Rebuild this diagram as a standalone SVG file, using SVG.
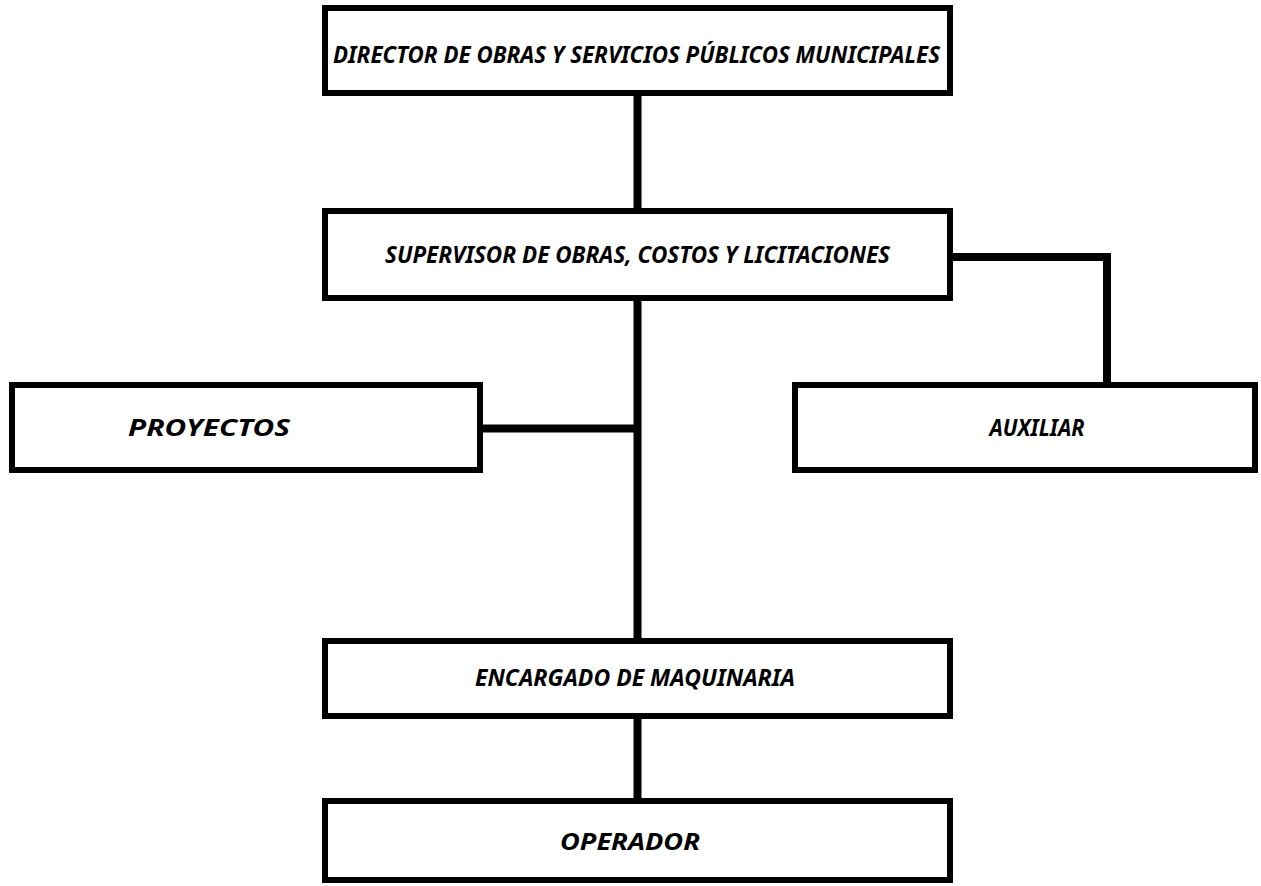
<svg xmlns="http://www.w3.org/2000/svg" width="1261" height="886" viewBox="0 0 1261 886">
<style>
.box{fill:#fff;stroke:#000;stroke-width:6}
.lbl{font-family:"Noto Sans","Liberation Sans",sans-serif;font-weight:bold;font-style:italic;font-size:23px;fill:#000;text-anchor:middle}
.conn{fill:none;stroke:#000;stroke-width:8;stroke-linecap:butt;stroke-linejoin:miter}
</style>
<rect width="1261" height="886" fill="#fff"/>
<g id="connectors">
<path class="conn" d="M637.5 96 V208"/>
<path class="conn" d="M637.5 301 V641"/>
<path class="conn" d="M483 428.5 H637.5"/>
<path class="conn" d="M953 257 H1107 V382"/>
<path class="conn" d="M637.5 718 V801"/>
</g>
<g id="director">
<rect class="box" x="325" y="8" width="625" height="85"/>
<text class="lbl" x="636.5" y="63" textLength="607" lengthAdjust="spacingAndGlyphs">DIRECTOR DE OBRAS Y SERVICIOS PÚBLICOS MUNICIPALES</text>
</g>
<g id="supervisor">
<rect class="box" x="325" y="211" width="625" height="87"/>
<text class="lbl" x="637.5" y="263" textLength="505" lengthAdjust="spacingAndGlyphs">SUPERVISOR DE OBRAS, COSTOS Y LICITACIONES</text>
</g>
<g id="proyectos">
<rect class="box" x="12" y="385" width="468" height="85"/>
<text class="lbl" x="209" y="436" textLength="162" lengthAdjust="spacingAndGlyphs">PROYECTOS</text>
</g>
<g id="auxiliar">
<rect class="box" x="795" y="385" width="460" height="85"/>
<text class="lbl" x="1037" y="436" textLength="95" lengthAdjust="spacingAndGlyphs">AUXILIAR</text>
</g>
<g id="encargado">
<rect class="box" x="325" y="641" width="625" height="75"/>
<text class="lbl" x="635" y="686" textLength="320" lengthAdjust="spacingAndGlyphs">ENCARGADO DE MAQUINARIA</text>
</g>
<g id="operador">
<rect class="box" x="325" y="801" width="625" height="79"/>
<text class="lbl" x="630" y="850" textLength="140" lengthAdjust="spacingAndGlyphs">OPERADOR</text>
</g>
</svg>
